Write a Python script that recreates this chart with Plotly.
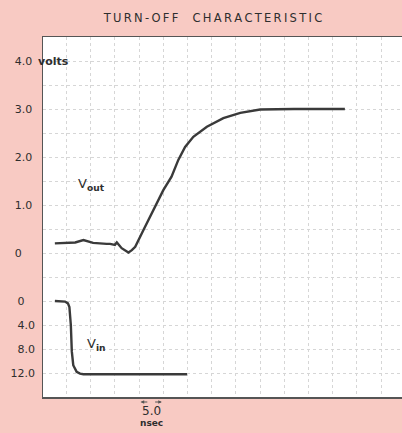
import plotly.graph_objects as go

# ---- data (time in nsec, volts) ----
vout_t = [2.6, 4.7, 6.8, 8.5, 10.5, 13.3, 14.0, 15.0, 15.4, 16.4, 17.8, 18.5, 19.2,
          20.9, 22.9, 25.0, 26.7, 28.1, 29.5, 31.2, 34.0, 37.4, 40.9, 45.0, 52.0, 62.5]
vout_v = [0.20, 0.21, 0.22, 0.27, 0.21, 0.19, 0.19, 0.17, 0.22, 0.10, 0.01, 0.06, 0.13,
          0.48, 0.90, 1.31, 1.59, 1.94, 2.21, 2.42, 2.63, 2.81, 2.92, 2.99, 3.0, 3.0]

vin_t = [2.6, 4.7, 5.3, 5.6, 5.9, 6.1, 6.4, 6.8, 7.1, 7.8, 8.5, 15.0, 29.9]
vin_v = [0.0, -0.1, -0.4, -1.0, -4.0, -8.4, -10.7, -11.5, -11.8, -12.1, -12.2, -12.2, -12.2]

vout_ticks = [0, 1, 2, 3, 4]
vout_ticktext = ["0\u00a0\u00a0\u00a0", "1.0", "2.0", "3.0", "4.0"]
vin_ticks = [0, -4, -8, -12]
vin_ticktext = ["0\u00a0\u00a0\u00a0", "4.0", "8.0", "12.0"]

title_text = "TURN-OFF  CHARACTERISTIC"

def spaced(s):
    return "\u2009".join(s)

INK = "#3a3a3a"
GRID = "#d6d6d6"
FONT = "DejaVu Sans"
TXT = "#2e2e2e"
PAPER = "#f8cac3"

fig = go.Figure()
fig.add_trace(go.Scatter(x=vout_t, y=vout_v, mode="lines", yaxis="y",
                         line=dict(color=INK, width=2.4),
                         showlegend=False, hoverinfo="skip"))
fig.add_trace(go.Scatter(x=vin_t, y=vin_v, mode="lines", yaxis="y2",
                         line=dict(color=INK, width=2.4),
                         showlegend=False, hoverinfo="skip"))

fig.update_layout(
    width=402, height=433,
    margin=dict(l=43, r=0, t=37, b=36, autoexpand=False),
    paper_bgcolor=PAPER,
    plot_bgcolor="#ffffff",
    font=dict(family=FONT, color=TXT, size=11),
    xaxis=dict(range=[0.15, 74.3], tick0=0, dtick=5, showticklabels=False, automargin=False,
               showgrid=True, gridcolor=GRID, griddash="dot", gridwidth=1,
               zeroline=False, showline=True, linecolor="#555555", linewidth=1.5,
               mirror=True, ticks=""),
    yaxis=dict(range=[-3, 4.5], tickmode="array", tickvals=vout_ticks, ticktext=vout_ticktext,
               automargin=False,
               showgrid=True, gridcolor=GRID, griddash="dot", gridwidth=1,
               minor=dict(tick0=0, dtick=0.5, showgrid=True, gridcolor=GRID, griddash="dot", gridwidth=1),
               zeroline=False, showline=True, linecolor="#555555", linewidth=1.5,
               ticks="", ticklabelstandoff=7,
               tickfont=dict(family=FONT, size=11, color=TXT)),
    yaxis2=dict(range=[-16, 44], overlaying="y", side="left", tickmode="array", automargin=False,
                tickvals=vin_ticks, ticktext=vin_ticktext, showgrid=False, zeroline=False,
                showline=False, ticks="", ticklabelstandoff=7,
                tickfont=dict(family=FONT, size=11, color=TXT)),
    title=dict(text=spaced(title_text), x=213/402, xanchor="center", y=1-18/433, yanchor="middle",
               font=dict(family=FONT, size=11.5, color=TXT)),
)

annots = [
    dict(text="<b>volts</b>", xref="paper", yref="y", x=(36-43)/359, y=4, xanchor="left", yanchor="middle",
         showarrow=False, font=dict(family=FONT, size=11, color=TXT)),
    dict(text="V<sub><b>out</b></sub>", xref="x", yref="y", x=10.1, y=1.42, showarrow=False,
         font=dict(family=FONT, size=13, color=TXT)),
    dict(text="V<sub><b>in</b></sub>", xref="x", yref="y2", x=11.2, y=-7.3, showarrow=False,
         font=dict(family=FONT, size=13, color=TXT)),
    dict(text="5.0", xref="x", yref="paper", x=22.5, y=-14/360, yanchor="middle", showarrow=False,
         font=dict(family=FONT, size=12, color=TXT)),
    dict(text="<b>nsec</b>", xref="x", yref="paper", x=22.5, y=-26/360, yanchor="middle", showarrow=False,
         font=dict(family=FONT, size=9, color=TXT)),
    dict(text="", xref="x", yref="paper", x=20.3, y=-5/360, axref="x", ayref="pixel", ax=22.0, ay=0,
         showarrow=True, arrowhead=2, arrowsize=0.6, arrowwidth=1.2, arrowcolor="#555555"),
    dict(text="", xref="x", yref="paper", x=24.7, y=-5/360, axref="x", ayref="pixel", ax=23.0, ay=0,
         showarrow=True, arrowhead=2, arrowsize=0.6, arrowwidth=1.2, arrowcolor="#555555"),
]
fig.update_layout(annotations=annots)

fig.write_html(
    "out.html",
    config={"displayModeBar": False, "staticPlot": True},
    post_script="document.body.style.margin='0';document.body.style.background='%s';" % PAPER,
)
